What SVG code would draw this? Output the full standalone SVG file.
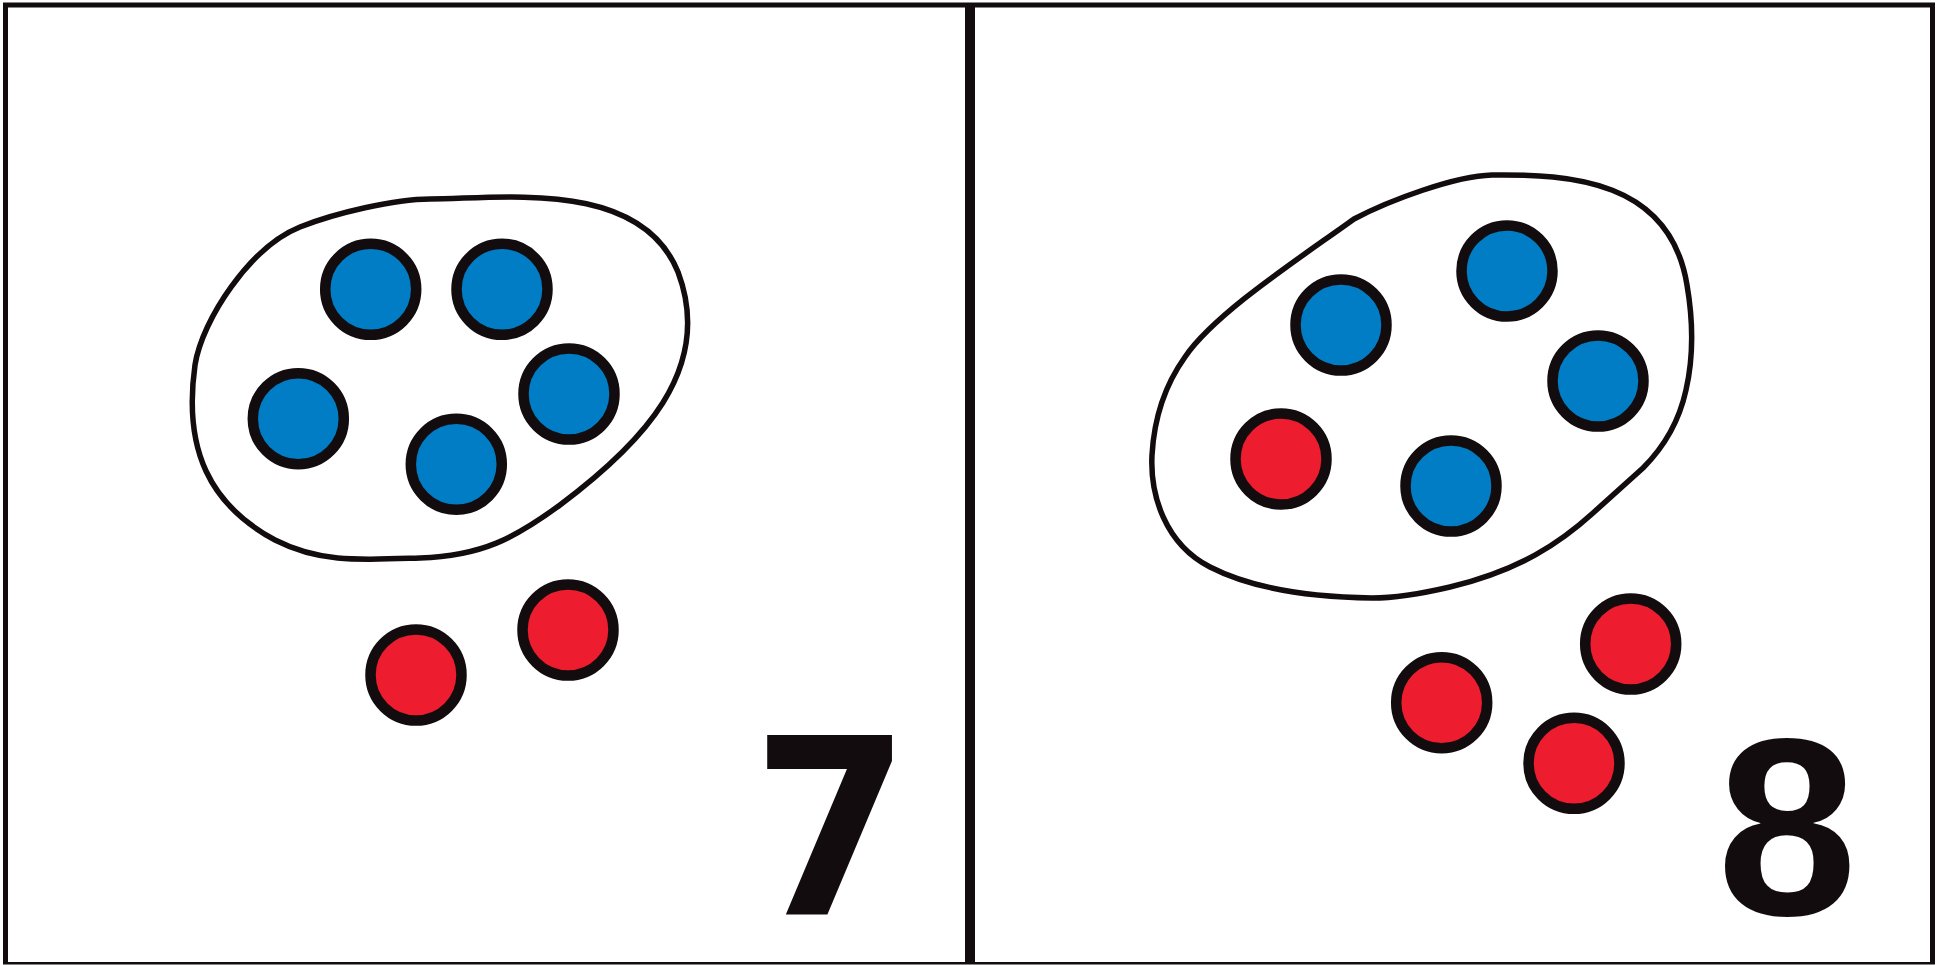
<svg xmlns="http://www.w3.org/2000/svg" width="1942" height="965" viewBox="0 0 1942 965">
<style>
.frame{stroke:#130c0e;fill:none}
.blob{fill:none;stroke:#130c0e;stroke-width:5.5;stroke-linejoin:round}
.b{fill:#007dc5;stroke:#130c0e;stroke-width:10.5}
.r{fill:#ed1c2e;stroke:#130c0e;stroke-width:10.5}
.num{font-weight:bold;fill:#130c0e}
</style>
<rect width="1942" height="965" fill="#fff"/>
<g id="frame">
<line class="frame" x1="3" y1="5" x2="1935" y2="5" stroke-width="5"/>
<line class="frame" x1="5.5" y1="3" x2="5.5" y2="964" stroke-width="5"/>
<line class="frame" x1="1932.5" y1="3" x2="1932.5" y2="964" stroke-width="5"/>
<line class="frame" x1="3" y1="963.3" x2="1935" y2="963.3" stroke-width="2.5"/>
<line class="frame" x1="970" y1="3" x2="970" y2="964" stroke-width="10"/>
</g>
<g id="left-panel">
<path id="left-group" class="blob" d="M 300,227 C 335,213 395,199 430,199 C 500,199 640,178 678,272 C 715,370 640,445 560,505 C 515,538 482,556 420,558 C 360,560 320,563 275,540 C 210,505 183,450 195,365 C 202,320 250,247 300,227 Z"/>
<circle class="b" cx="370.7" cy="289.3" r="45.5"/>
<circle class="b" cx="502" cy="289.3" r="45.5"/>
<circle class="b" cx="298.3" cy="418.7" r="45.5"/>
<circle class="b" cx="569" cy="394" r="45.5"/>
<circle class="b" cx="456.3" cy="464.3" r="45.5"/>
<circle class="r" cx="416" cy="675" r="45.5"/>
<circle class="r" cx="568" cy="630" r="45.5"/>
<text class="num" font-family="DejaVu Sans, sans-serif" font-size="247" transform="translate(752,915) scale(0.92,1)" x="0" y="0">7</text>
</g>
<g id="right-panel">
<path id="right-group" class="blob" d="M 1354,219 C 1390,200 1455,176 1492,175 C 1570,174 1670,180 1687,285 C 1693,320 1694,355 1686,390 C 1679,422 1665,446 1643,468 L 1593,513 C 1560,543 1520,570 1450,587 C 1420,594 1395,598 1372,598 C 1300,597 1245,585 1210,567 C 1165,544 1150,495 1152,455 C 1154,420 1165,385 1185,357 C 1215,313 1300,258 1354,219 Z"/>
<circle class="b" cx="1341" cy="325" r="45.5"/>
<circle class="b" cx="1507" cy="271" r="45.5"/>
<circle class="b" cx="1598" cy="381" r="45.5"/>
<circle class="b" cx="1451" cy="486" r="45.5"/>
<circle class="r" cx="1281" cy="459" r="45.5"/>
<circle class="r" cx="1441.7" cy="702.7" r="45.5"/>
<circle class="r" cx="1630.7" cy="644" r="45.5"/>
<circle class="r" cx="1574" cy="763.3" r="45.5"/>
<text class="num" font-family="Liberation Sans, Arial, sans-serif" font-size="252" x="1787" y="915" text-anchor="middle">8</text>
</g>
</svg>
